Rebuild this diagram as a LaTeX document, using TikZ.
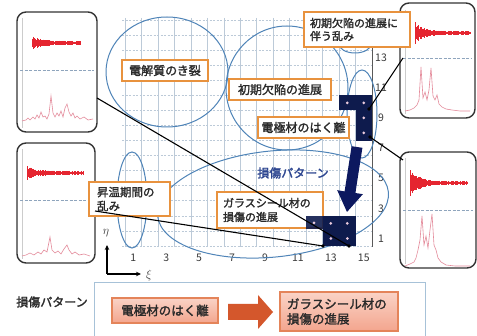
\documentclass[tikz,border=0pt]{standalone}
\usepackage{fontspec}
\newfontfamily\jp{Noto Sans CJK JP}
\newfontfamily\jpb[FakeBold=1.8]{Noto Sans CJK JP}
\usetikzlibrary{arrows.meta}
\definecolor{obox}{HTML}{E8923E}
\definecolor{ell}{HTML}{4F84B8}
\definecolor{navy}{HTML}{0E1B4D}
\definecolor{gridc}{HTML}{BCCAD8}
\definecolor{txt}{HTML}{2A2A2A}
\definecolor{numc}{HTML}{3A3A3A}
\definecolor{pat}{HTML}{2C4590}
\definecolor{pinkt}{HTML}{FAD3C6}
\definecolor{pinkf}{HTML}{F3A58E}
\definecolor{pinkb}{HTML}{E4845A}
\definecolor{arr}{HTML}{D4572C}
\definecolor{frameb}{HTML}{A7C2D8}
\definecolor{wavec}{HTML}{E52530}
\definecolor{specc}{HTML}{E48A9A}
\definecolor{dotc}{HTML}{EBCBDD}
\definecolor{sepc}{HTML}{8FA5BD}

\newcommand{\wavef}[7]{%
  \pgfmathsetseed{#7}%
  \draw[wavec, line width=0.8pt] (#1,#3) -- ({#1+0.6*#2},#3);
  \foreach \i in {0,...,#2}{%
    \pgfmathsetmacro{\xx}{#1+0.6*\i}%
    \pgfmathsetmacro{\aa}{(#5+(#4-#5)*exp(-0.6*\i/#6))*(0.5+0.5*rnd)}%
    \draw[wavec, line width=0.55pt] (\xx,{#3-\aa}) -- (\xx,{#3+\aa});
  }}
\newcommand{\cellat}[2]{\fill[navy] ({125+(#1-1)*16.467},{246-#2*15.07}) rectangle ++(16.467,15.07);}
\newcommand{\dotat}[2]{\fill[dotc] ({125+(#1-0.5)*16.467},{246-(#2-0.5)*15.07}) circle (1.5);}

\begin{document}
\begin{tikzpicture}[x=1pt,y=-1pt,
  lbl/.style={draw=obox, line width=2pt, fill=white, text=txt, font=\jpb\fontsize{12}{14}\selectfont, inner sep=0pt, align=center},
  lbltwo/.style={draw=obox, line width=2pt, fill=white, text=txt, inner ysep=0pt, align=left},
  inset/.style={draw=black!80, line width=1.4pt, rounded corners=9pt, fill=white, inner sep=0pt},
  ellc/.style={draw=ell, line width=1pt},
  conn/.style={draw=black, line width=1.1pt},
  pbox/.style={draw=pinkb, line width=1.2pt, top color=pinkt, bottom color=pinkf, text=txt, font=\jpb\fontsize{12.5}{15}\selectfont, inner sep=0pt},
  num/.style={font=\jp\fontsize{10.5}{12}\selectfont, text=numc, inner sep=0pt},
  sep/.style={draw=sepc, line width=0.6pt, dash pattern=on 3pt off 1.5pt},
  spec/.style={draw=specc, line width=0.6pt},
  axl/.style={draw=black!20, line width=0.4pt}
]
\useasboundingbox (0,0) rectangle (477,336);
\fill[white] (0,0) rectangle (477,336);

% grid
\foreach \k in {0,...,14} \draw[gridc, line width=0.6pt] ({125+\k*16.467},18) -- ({125+\k*16.467},247);
\foreach \k in {0,...,15} \draw[gridc, line width=0.6pt, dash pattern=on 2pt off 1.5pt] (122,{246-\k*15.07}) -- (372,{246-\k*15.07});
\draw[black!65, line width=0.9pt] (372,18) -- (372,247);
\foreach \k in {1,3,...,15} \node[num] (nx\k) at ({125+(\k-0.5)*16.467},257.5) {\k};
\foreach \k in {1,3,...,13} \node[num] (ny\k) at (381,{246-(\k-0.5)*15.07}) {\k};

% insets
\node[inset, minimum width=80pt, minimum height=120pt] (tl) at (57,72) {};
\node[inset, minimum width=75pt, minimum height=115pt] (tr) at (437.5,60.5) {};
\node[inset, minimum width=78pt, minimum height=120pt] (ml) at (56,203) {};
\node[inset, minimum width=76pt, minimum height=116pt] (lr) at (438,210) {};

% inset contents
\draw[axl] (22,18) -- (22,128); \draw[axl] (405,10) -- (405,114);
\draw[axl] (22,149) -- (22,259); \draw[axl] (405,158) -- (405,264);
\wavef{32}{80}{43}{7}{2}{9}{3}
\wavef{415}{92}{33}{12}{2}{8}{5}
\wavef{27}{93}{173}{7}{2}{10}{7}
\wavef{410}{95}{183}{14}{2}{9}{11}
\draw[sep] (20,70) -- (94,70);
\draw[sep] (403,58) -- (472,58);
\draw[sep] (20,200) -- (92,200);
\draw[sep] (403,210) -- (473,210);
\draw[spec] plot coordinates {(22,121) (26,120) (28,118) (30,120) (33,117) (35,119) (37,115) (39,118) (41,112) (43,117) (45,116) (47,119) (49,114) (51,96) (53,113) (55,117) (57,113) (59,116) (61,111) (63,117) (65,108) (67,104) (69,112) (71,116) (73,113) (75,118) (77,116) (80,119) (84,117) (88,120) (93,119)};
\draw[spec] plot coordinates {(22,256) (26,255) (30,253) (34,255) (38,252) (41,254) (44,250) (47,252) (50,237) (52,250) (55,253) (58,251) (61,254) (64,249) (67,245) (69,250) (72,254) (75,252) (79,255) (84,254) (90,256)};
\draw[spec] plot coordinates {(405,111) (410,110) (414,108) (417,105) (419,100) (421,67) (423,98) (425,92) (427,100) (429,90) (431,68) (433,96) (435,100) (437,95) (439,104) (442,107) (446,109) (452,110) (460,111) (470,111)};
\draw[spec] plot coordinates {(405,266) (410,264) (414,262) (416,258) (418,250) (420,240) (422,216) (424,245) (426,236) (428,248) (430,230) (432,214) (434,245) (436,250) (438,258) (441,262) (446,265) (455,266) (470,266)};

% ellipses
\draw[ellc] (167,72) ellipse [x radius=61, y radius=55];
\draw[ellc] (287,88) ellipse [x radius=61, y radius=62];
\draw[ellc] (355,44) ellipse [x radius=16, y radius=9];
\draw[ellc] (362,114) ellipse [x radius=15, y radius=44];
\draw[ellc] (132,200) ellipse [x radius=15, y radius=48];
\draw[ellc, rotate around={6:(273,204)}] (273,204) ellipse [x radius=116, y radius=53];

% labels
\node[lbl, minimum width=86pt, minimum height=21pt] (b1) at (165,70.5) {電解質のき裂};
\node[lbl, minimum width=102pt, minimum height=21pt] (b2) at (280,89.5) {初期欠陥の進展};
\node[lbl, minimum width=91pt, minimum height=21pt] (b3) at (303.5,127.5) {電極材のはく離};
\node[lbltwo, inner xsep=6pt, text width=94pt, minimum height=35pt, font=\jpb\fontsize{11}{13}\selectfont] (b4) at (357,29.5) {初期欠陥の進展に\\伴う乱み};
\node[lbltwo, inner xsep=8pt, text width=65pt, minimum height=34pt, font=\jpb\fontsize{11.5}{14}\selectfont] (b5) at (129.5,199) {昇温期間の\\乱み};
\node[lbltwo, inner xsep=6pt, text width=94pt, minimum height=36pt, font=\jpb\fontsize{11}{14}\selectfont] (b6) at (270,210) {ガラスシール材の\\損傷の進展};

% dark cells
\cellat{14}{10}\cellat{15}{10}\cellat{15}{9}\cellat{15}{8}
\cellat{13}{1}\cellat{14}{1}\cellat{13}{2}\cellat{14}{2}
\fill[navy, opacity=0.9] (306,216) rectangle (322.6,229);
\dotat{14}{10}\dotat{15}{10}\dotat{15}{9}\dotat{15}{8}
\dotat{13}{1}\dotat{14}{1}\dotat{13}{2}\dotat{14}{2}
\fill[dotc] (314,223) circle (1.5);

% big arrow
\fill[navy!90!blue] (351.6,146.2) -- (362.4,147.8) -- (355.4,193.0) -- (362.8,194.2) -- (347,212) -- (337.2,190.2) -- (344.6,191.4) -- cycle;
\node[font=\jpb\fontsize{12}{14}\selectfont, text=pat, inner sep=0pt] (pt) at (293,173) {損傷パターン};

% connectors
\coordinate (tlp) at (97,98); \coordinate (d1) at (349,246);
\coordinate (mlp) at (95,211); \coordinate (d2) at (323,246);
\coordinate (trp) at (403,58); \coordinate (d3) at (369,109);
\coordinate (lrp) at (403,160); \coordinate (d4) at (370,137);
\draw[conn] (tlp) -- (d1);
\draw[conn] (mlp) -- (d2);
\draw[conn] (trp) -- (d3);
\draw[conn] (lrp) -- (d4);
\foreach \d in {d1,d2,d3,d4} \fill (\d) circle (1.8);

% axes
\coordinate (o) at (107,274); \coordinate (ot) at (107,245); \coordinate (orr) at (141,274);
\draw[line width=1.1pt, -{Stealth[length=5pt,width=4.5pt]}] (o) -- (ot);
\draw[line width=1.1pt, -{Stealth[length=5pt,width=4.5pt]}] (o) -- (orr);
\node[font=\fontsize{13}{14}\selectfont, text=numc, inner sep=0pt] (eta) at (106,233) {$\eta$};
\node[font=\fontsize{13}{14}\selectfont, text=numc, inner sep=0pt] (xi) at (149,276) {$\xi$};

% bottom band
\node[font=\jpb\fontsize{12}{14}\selectfont, text=txt, inner sep=0pt] (lg) at (52,302) {損傷パターン};
\draw[frameb, line width=1pt] (94,283) rectangle (425,340);
\node[pbox, minimum width=106pt, minimum height=25pt] (p1) at (165,310.5) {電極材のはく離};
\node[pbox, align=left, inner xsep=7pt, text width=104pt, minimum height=39pt] (p2) at (339,311.5) {ガラスシール材の\\損傷の進展};
\fill[arr] (228,304) -- (258,304) -- (258,295) -- (273,312) -- (258,329) -- (258,320) -- (228,320) -- cycle;
\end{tikzpicture}
\end{document}
